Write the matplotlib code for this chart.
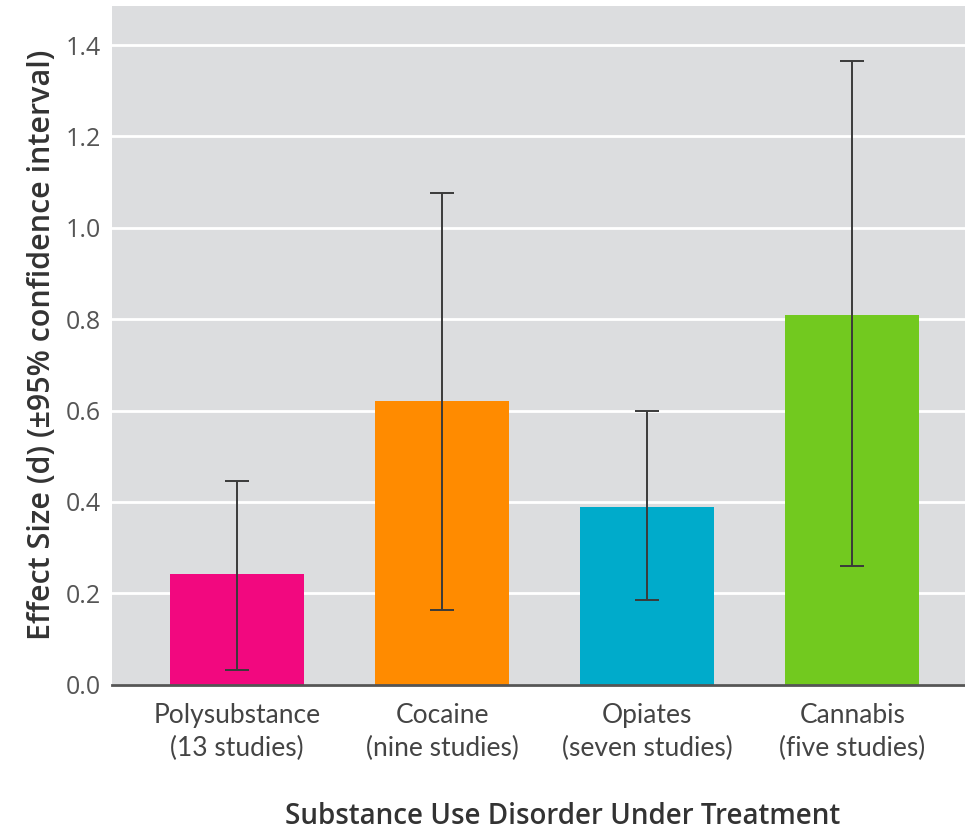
import matplotlib.pyplot as plt
import numpy as np

categories = ["Polysubstance\n(13 studies)", "Cocaine\n(nine studies)",
              "Opiates\n(seven studies)", "Cannabis\n(five studies)"]
effect = [0.243, 0.622, 0.389, 0.810]
ci_low = [0.033, 0.163, 0.186, 0.259]
ci_high = [0.446, 1.077, 0.600, 1.366]
colors = ["#F2087F", "#FF8B00", "#00ABCB", "#72C91F"]
yticks = [0.0, 0.2, 0.4, 0.6, 0.8, 1.0, 1.2, 1.4]

fig = plt.figure(figsize=(9.65, 8.31), dpi=100)
ax = fig.add_axes([0.116, 0.176, 0.884, 0.817])
ax.set_facecolor("#DCDDDF")

x = np.arange(len(categories))
ax.bar(x, effect, width=0.655, color=colors, zorder=2)
yerr = [np.array(effect) - np.array(ci_low), np.array(ci_high) - np.array(effect)]
ax.errorbar(x, effect, yerr=yerr, fmt="none", ecolor="#3a3a3a",
            elinewidth=1.4, capsize=8.5, capthick=1.4, zorder=3)

ax.set_ylim(0, 1.486)
ax.set_xlim(-0.61, 3.55)
ax.set_yticks(yticks)
ax.set_yticklabels([f"{v:.1f}" for v in yticks], fontsize=18, color="#555555",
                   family="Open Sans")
ax.yaxis.grid(True, color="white", linewidth=2, zorder=1)
ax.set_axisbelow(True)
ax.tick_params(axis="y", length=0, pad=8)
ax.tick_params(axis="x", length=0, pad=13)
ax.set_xticks(x)
ax.set_xticklabels(categories, fontsize=19, color="#444444",
                   family="Lato", linespacing=1.4)

for s in ["top", "right", "left"]:
    ax.spines[s].set_visible(False)
ax.spines["bottom"].set_color("#555555")
ax.spines["bottom"].set_linewidth(2)

ax.set_ylabel("Effect Size (d) (\u00b195% confidence interval)", fontsize=22,
              fontweight="semibold", family="Open Sans", color="#333333", labelpad=6)
fig.text(0.583, 0.018, "Substance Use Disorder Under Treatment", fontsize=20,
         fontweight="semibold", family="Open Sans", color="#333333",
         ha="center", va="center")

fig.savefig("out.png", dpi=100)
